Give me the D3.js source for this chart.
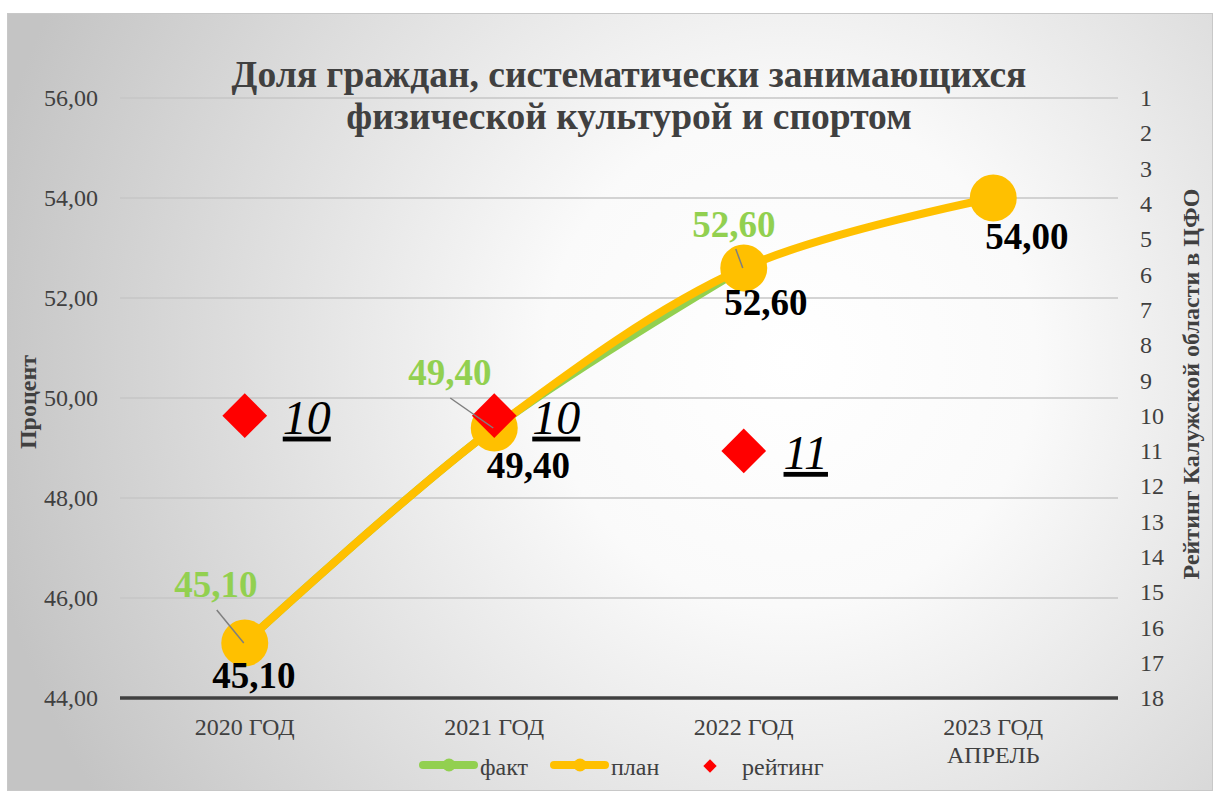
<!DOCTYPE html>
<html><head><meta charset="utf-8">
<script src="https://cdn.jsdelivr.net/npm/d3@7"></script>
</head><body style="margin:0">
<svg id="c" width="1213" height="791" style="display:block"></svg>
<script>
const categories = ["2020 ГОД","2021 ГОД","2022 ГОД","2023 ГОД\nАПРЕЛЬ"];
const factValues = [45.10, 49.40, 52.60];
const planValues = [45.10, 49.40, 52.60, 54.00];
const ratingValues = [10, 10, 11];
const leftTicks = [44,46,48,50,52,54,56];
const rightTicks = d3.range(1,19);
const title = ["Доля граждан, систематически занимающихся","физической культурой и спортом"];

const FONT = "Liberation Serif";
const svg = d3.select("#c");
const W=1213,H=791;
const defs = svg.append("defs");
const rg = defs.append("radialGradient").attr("id","bg").attr("gradientUnits","userSpaceOnUse")
  .attr("cx",790).attr("cy",360).attr("r",820);
rg.append("stop").attr("offset","0%").attr("stop-color","#ffffff");
rg.append("stop").attr("offset","30%").attr("stop-color","#fafafa");
rg.append("stop").attr("offset","100%").attr("stop-color","#c4c4c4");
svg.append("rect").attr("x",7.5).attr("y",13.5).attr("width",W-8).attr("height",H-14)
  .attr("fill","url(#bg)").attr("stroke","#c8c8c8");

const m={l:120,r:1118,t:98,b:698};
const x = d3.scaleBand().domain(categories).range([m.l,m.r]);
const xc = i => x(categories[i]) + x.bandwidth()/2;
const y = d3.scaleLinear().domain([44,56]).range([m.b,m.t]);
const y2 = d3.scaleLinear().domain([1,18]).range([m.t,m.b]);

function txt(sel){ return sel.append("text").attr("font-family",FONT); }

// gridlines
svg.append("g").selectAll("line").data(leftTicks.filter(d=>d>44)).join("line")
  .attr("x1",m.l).attr("x2",m.r).attr("y1",d=>y(d)).attr("y2",d=>y(d))
  .attr("stroke","#c6c6c6").attr("stroke-width",1.5);
svg.append("line").attr("x1",m.l).attr("x2",m.r).attr("y1",y(44)).attr("y2",y(44))
  .attr("stroke","#404040").attr("stroke-width",3.5);

// left axis labels
const gl = svg.append("g").attr("transform",`translate(98,0)`)
  .call(d3.axisLeft(y).tickValues(leftTicks).tickSize(0).tickPadding(0).tickFormat(d=>d3.format(".2f")(d).replace(".",",")));
gl.select(".domain").remove();
gl.attr("font-family",FONT).attr("font-size",24);
gl.selectAll("text").attr("font-family",FONT).attr("fill","#404040");

const gr = svg.append("g").attr("transform",`translate(1140,0)`)
  .call(d3.axisRight(y2).tickValues(rightTicks).tickSize(0).tickPadding(0).tickFormat(d3.format("d")));
gr.select(".domain").remove();
gr.attr("font-family",FONT).attr("font-size",24);
gr.selectAll("text").attr("font-family",FONT).attr("fill","#404040");

// x labels
const gx = svg.append("g");
categories.forEach((c,i)=>{
  const t = txt(gx).attr("x",xc(i)).attr("y",735).attr("text-anchor","middle")
    .attr("font-size",24).attr("fill","#404040");
  c.split("\n").forEach((s,j)=>t.append("tspan").attr("x",xc(i)).attr("dy",j?28:0).text(s));
});

// axis titles
txt(svg).attr("transform","translate(36,402) rotate(-90)").attr("text-anchor","middle")
  .attr("font-size",24).attr("font-weight","bold").attr("fill","#404040").text("Процент");
txt(svg).attr("transform","translate(1199,384) rotate(-90)").attr("text-anchor","middle")
  .attr("font-size",24).attr("font-weight","bold").attr("fill","#404040").text("Рейтинг Калужской области в ЦФО");

// title
title.forEach((s,i)=>txt(svg).attr("x",629).attr("y",87+i*42).attr("text-anchor","middle")
  .attr("font-size",37.5).attr("font-weight","bold").attr("fill","#404040").text(s));

// lines
const line = d3.line().x((d,i)=>xc(i)).y(d=>y(d)).curve(d3.curveCatmullRom.alpha(0.5));
svg.append("path").datum(factValues).attr("d",line).attr("fill","none").attr("stroke","#92d050").attr("stroke-width",8).attr("stroke-linecap","round");
svg.append("path").datum(planValues).attr("d",line).attr("fill","none").attr("stroke","#ffc000").attr("stroke-width",8).attr("stroke-linecap","round");
svg.append("g").selectAll("circle").data(planValues).join("circle")
  .attr("cx",(d,i)=>xc(i)).attr("cy",d=>y(d)).attr("r",23.5).attr("fill","#ffc000");

// rating diamonds
svg.append("g").selectAll("path").data(ratingValues).join("path")
  .attr("d",d3.symbol(d3.symbolSquare,1000)())
  .attr("transform",(d,i)=>`translate(${xc(i)},${y2(d)}) rotate(45)`).attr("fill","#ff0000");

// fact labels with leader lines
const fmt = d=>d3.format(".2f")(d).replace(".",",");
const factOff = [[-29,-46],[-44.5,-43],[-10,-31]];
const leadStart = [[-28,-33],[-44,-30],[-8,-19]];
factValues.forEach((v,i)=>{
  const cx=xc(i), cy=y(v), [dx,dy]=factOff[i], [lx,ly]=leadStart[i];
  svg.append("line").attr("x1",cx+lx).attr("y1",cy+ly).attr("x2",cx-1).attr("y2",cy)
    .attr("stroke","#7f7f7f").attr("stroke-width",1.5);
  txt(svg).attr("x",cx+dx).attr("y",cy+dy).attr("text-anchor","middle")
    .attr("font-size",37).attr("font-weight","bold").attr("fill","#92d050").text(fmt(v));
});
// plan labels
const planOff=[[9,45],[34,50],[22,47],[33.5,51]];
planValues.forEach((v,i)=>{
  txt(svg).attr("x",xc(i)+planOff[i][0]).attr("y",y(v)+planOff[i][1]).attr("text-anchor","middle")
    .attr("font-size",37).attr("font-weight","bold").attr("fill","#000").text(fmt(v));
});
// rating labels
ratingValues.forEach((v,i)=>{
  txt(svg).attr("x",xc(i)+62).attr("y",y2(v)+18).attr("text-anchor","middle")
    .attr("font-size",48).attr("font-style","italic").attr("text-decoration","underline").attr("fill","#000").text(v);
});

// legend
const lg = svg.append("g").attr("transform","translate(0,765)");
[["факт","#92d050",420],["план","#ffc000",551]].forEach(([t,c,x0])=>{
  lg.append("line").attr("x1",x0+3).attr("x2",x0+54).attr("stroke",c).attr("stroke-width",8).attr("stroke-linecap","round");
  lg.append("circle").attr("cx",x0+29).attr("r",6.5).attr("fill",c);
  txt(lg).attr("x",x0+60).attr("y",10).attr("font-size",24).attr("fill","#404040").text(t);
});
lg.append("path").attr("d",d3.symbol(d3.symbolSquare,90)()).attr("transform","translate(710,1) rotate(45)").attr("fill","#ff0000");
txt(lg).attr("x",742).attr("y",10).attr("font-size",24).attr("fill","#404040").text("рейтинг");
</script>
</body></html>
